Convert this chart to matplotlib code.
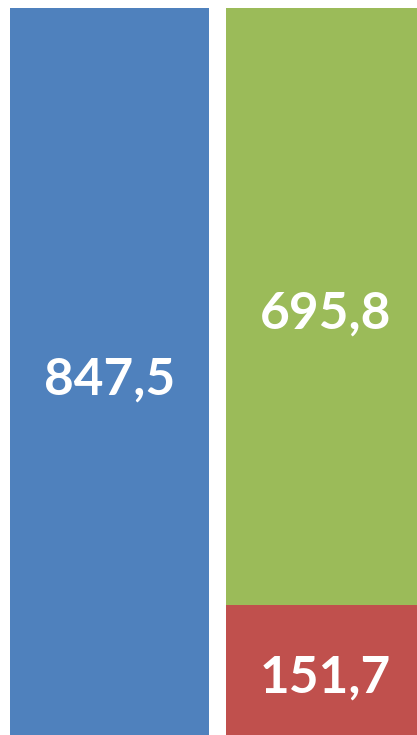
import matplotlib
matplotlib.use("Agg")
import matplotlib.pyplot as plt

categories = ["A", "B"]
bottom_vals = [847.5, 151.7]
top_vals = [0.0, 695.8]
bottom_colors = ["#4F81BD", "#C0504D"]
top_colors = ["#4F81BD", "#9BBB59"]

fig = plt.figure(figsize=(4.17, 7.35), dpi=100)
ax = fig.add_axes([0, 0, 1, 1])
x = [0, 1]
w = 199 / 216
ax.bar(x, bottom_vals, width=w, color=bottom_colors)
ax.bar(x, top_vals, width=w, bottom=bottom_vals, color=top_colors)
ax.set_xlim(-109.5 / 216, (417 - 109.5) / 216)
ax.set_ylim(0, 847.5 + 8 * 847.5 / 727)
ax.axis("off")

def fmt(v):
    return f"{v:.1f}".replace(".", ",")

font = dict(family="Lato", weight="bold", size=37, color="white",
            ha="center", va="center")
for xi, b, t in zip(x, bottom_vals, top_vals):
    ax.text(xi, b / 2 - 10, fmt(b), **font)
    if t > 0:
        ax.text(xi, b + t / 2 - 9, fmt(t), **font)

fig.savefig("out.png", dpi=100)
